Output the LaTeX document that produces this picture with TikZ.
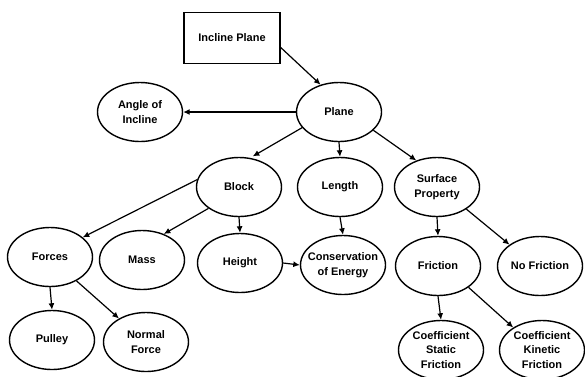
\documentclass[tikz,border=0pt]{standalone}
\usepackage{fontspec}
\setmainfont{Liberation Sans}
\usetikzlibrary{shapes.geometric,arrows.meta}
\begin{document}
\begin{tikzpicture}[x=1pt,y=-1pt,
  ell/.style={ellipse,draw,line width=1.4pt,minimum width=85pt,minimum height=59pt,inner sep=0pt},
  txt/.style={align=center,font=\fontsize{11}{14.5}\selectfont\bfseries,inner sep=0pt},
  arr/.style={line width=1.2pt,-{Latex[length=6.5pt,width=6pt]}}]
\useasboundingbox[fill=white] (0,0) rectangle (585,376);
\node[draw,line width=1.4pt,minimum width=96pt,minimum height=51pt,inner sep=0pt] (box) at (232,38) {};
\node[txt] at (box) {Incline Plane};
\node[ell] (plane) at (339,112) {};  \node[txt] at (plane) {Plane};
\node[ell] (angle) at (140,112) {};  \node[txt] at (angle) {Angle of\\Incline};
\node[ell] (block) at (239,187) {};  \node[txt] at (block) {Block};
\node[ell] (length) at (340,187) {}; \node[txt] at (length) {Length};
\node[ell] (surf) at (437,187) {};   \node[txt] at (surf) {Surface\\Property};
\node[ell] (forces) at (50,257) {};  \node[txt] at (forces) {Forces};
\node[ell] (mass) at (142,260) {};   \node[txt] at (mass) {Mass};
\node[ell] (height) at (240,263) {}; \node[txt] at (height) {Height};
\node[ell] (cons) at (343,265) {};   \node[txt] at (cons) {Conservation\\of Energy};
\node[ell] (fric) at (438,266) {};   \node[txt] at (fric) {Friction};
\node[ell] (nofric) at (540,266) {}; \node[txt] at (nofric) {No Friction};
\node[ell] (pulley) at (52,340) {};  \node[txt] at (pulley) {Pulley};
\node[ell] (normal) at (146,342) {}; \node[txt] at (normal) {Normal\\Force};
\node[ell] (cs) at (441,350) {};     \node[txt] at (cs) {Coefficient\\Static\\Friction};
\node[ell] (ck) at (542,350) {};     \node[txt] at (ck) {Coefficient\\Kinetic\\Friction};
\draw[arr] (box.-11) -- (plane.124);
\draw[arr] (plane.west) -- (angle.east);
\draw[arr,shorten >=3pt] (plane.203) -- (block.69);
\draw[arr] (plane.south) -- (length.north);
\draw[arr] (plane.-28) -- (surf.128);
\draw[arr] (block.170) -- (forces.31);
\draw[arr] (block.215) -- (mass.50);
\draw[arr] (block.south) -- (height.north);
\draw[arr] (height.east) -- (cons.west);
\draw[arr] (length.south) -- (cons.north);
\draw[arr] (surf.south) -- (fric.north);
\draw[arr] (surf.-37) -- (nofric.145);
\draw[arr] (fric.south) -- (cs.north);
\draw[arr] (fric.-35) -- (ck.142);
\draw[arr] (forces.south) -- (pulley.north);
\draw[arr] (forces.-42) -- (normal.139);
\end{tikzpicture}
\end{document}
